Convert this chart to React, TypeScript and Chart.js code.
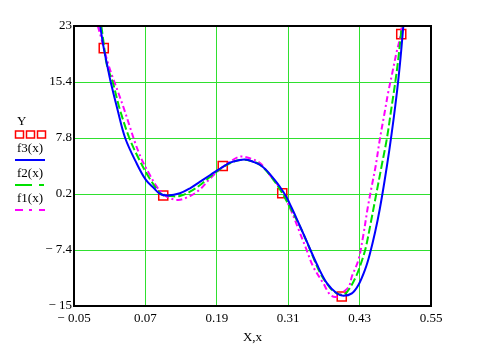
import React, { useEffect, useRef } from 'react';
import { Chart, registerables } from 'chart.js';
Chart.register(...registerables);

const xTicks = [-0.05, 0.07, 0.19, 0.31, 0.43, 0.55];
const yTicks = [-15, -7.4, 0.2, 7.8, 15.4, 23];

// Data points Y (red squares)
const dataX = [0, 0.1, 0.2, 0.3, 0.4, 0.5];
const dataY = [20, 0, 4, 0.3, -13.7, 21.9];

// f3(x) blue solid
const f3X = [-0.006, 0.0, 0.006, 0.0117, 0.023, 0.036, 0.055, 0.0705, 0.0845, 0.095, 0.108, 0.128, 0.145, 0.162, 0.179, 0.19, 0.201, 0.212, 0.229, 0.24, 0.251, 0.263, 0.274, 0.285, 0.296, 0.307, 0.316, 0.324, 0.341, 0.358, 0.375, 0.392, 0.403, 0.417, 0.428, 0.439, 0.447, 0.456, 0.464, 0.472, 0.48, 0.487, 0.493, 0.498, 0.502, 0.504];
const f3Y = [23, 20.0, 17.6, 15.4, 11.7, 7.8, 4.4, 2.15, 0.97, 0.2, 0.0, 0.3, 0.97, 1.87, 2.78, 3.37, 3.91, 4.45, 4.81, 4.85, 4.58, 4.14, 3.37, 2.33, 1.19, -0.2, -1.7, -3.1, -6.2, -9.3, -11.9, -13.3, -13.6, -13.28, -12.15, -10.1, -8.0, -5.0, -1.8, 2.0, 6.2, 10.3, 14.2, 18.0, 21.6, 23.5];

// f2(x) green dashed
const f2X = [-0.004, 0.0, 0.005, 0.015, 0.027, 0.043, 0.06, 0.078, 0.097, 0.111, 0.128, 0.145, 0.162, 0.179, 0.195, 0.212, 0.229, 0.246, 0.263, 0.279, 0.296, 0.313, 0.33, 0.347, 0.364, 0.381, 0.392, 0.403, 0.414, 0.425, 0.432, 0.44, 0.449, 0.458, 0.467, 0.476, 0.483, 0.49, 0.495, 0.499, 0.501];
const f2Y = [23, 20.6, 17.8, 15.4, 11.7, 7.8, 4.81, 2.19, 0.16, -0.07, -0.07, 0.51, 1.42, 2.55, 3.55, 4.37, 4.81, 4.72, 4.14, 2.78, 0.85, -1.6, -4.24, -7.4, -10.56, -12.6, -13.28, -13.5, -12.5, -10.8, -9.3, -7.2, -3.6, 0.2, 4.0, 7.8, 11.6, 15.4, 18.5, 21.5, 23.2];

// f1(x) magenta dash-dot
const f1X = [-0.01, -0.005, 0.0, 0.0077, 0.0134, 0.026, 0.033, 0.044, 0.0525, 0.06, 0.066, 0.078, 0.089, 0.097, 0.108, 0.125, 0.145, 0.162, 0.179, 0.195, 0.212, 0.229, 0.246, 0.263, 0.279, 0.296, 0.313, 0.33, 0.341, 0.352, 0.369, 0.381, 0.392, 0.403, 0.412, 0.417, 0.428, 0.436, 0.444, 0.451, 0.457, 0.464, 0.472, 0.478, 0.485, 0.492, 0.498, 0.502];
const f1Y = [23, 21.6, 20.0, 17.8, 16.4, 13.6, 12.0, 9.3, 7.2, 5.6, 4.5, 2.7, 1.2, 0.45, -0.25, -0.6, -0.07, 0.84, 2.33, 3.55, 4.58, 5.27, 5.04, 4.37, 2.78, 1.0, -1.7, -5.13, -7.4, -9.66, -11.92, -13.5, -13.74, -13.06, -12.38, -11.0, -8.75, -5.5, -1.5, 1.5, 4.0, 7.62, 11.23, 13.95, 16.66, 19.38, 21.4, 23.5];

const GREEN = '#2fe02f';
const BLUE = '#0000ff';
const GREEN_LINE = '#00e000';
const MAGENTA = '#ff00ff';
const FONT = '"Liberation Serif", "Times New Roman", serif';

const fmt = (v: number) => {
  const s = String(Math.round(Math.abs(v) * 1000) / 1000);
  return v < 0 ? '\u2212 ' + s : s;
};

const pts = (xs: number[], ys: number[]) => xs.map((x, i) => ({ x, y: ys[i] }));

const decor = {
  id: 'decor',
  afterDraw(chart: any) {
    const ctx = chart.ctx;
    const { left, top, right, bottom } = chart.chartArea;
    ctx.save();
    ctx.strokeStyle = '#000';
    ctx.lineWidth = 2;
    ctx.setLineDash([]);
    ctx.strokeRect(left, top, right - left, bottom - top);

    ctx.fillStyle = '#000';
    ctx.font = '13px ' + FONT;
    ctx.textBaseline = 'middle';
    ctx.textAlign = 'left';
    ctx.fillText('Y', 17, 122);
    ctx.strokeStyle = '#ff0000';
    ctx.lineWidth = 1.5;
    [15.5, 26.5, 37.5].forEach((x) => ctx.strokeRect(x, 131, 8, 7));

    ctx.fillText('f3(x)', 17, 149);
    ctx.strokeStyle = BLUE;
    ctx.lineWidth = 2;
    ctx.beginPath(); ctx.moveTo(15, 160); ctx.lineTo(45, 160); ctx.stroke();

    ctx.fillText('f2(x)', 17, 174);
    ctx.strokeStyle = GREEN_LINE;
    ctx.setLineDash([17, 7]);
    ctx.beginPath(); ctx.moveTo(15, 185); ctx.lineTo(44, 185); ctx.stroke();

    ctx.fillText('f1(x)', 17, 199);
    ctx.strokeStyle = MAGENTA;
    ctx.setLineDash([8, 6, 3, 7]);
    ctx.beginPath(); ctx.moveTo(15, 210); ctx.lineTo(45, 210); ctx.stroke();
    ctx.setLineDash([]);

    ctx.textAlign = 'center';
    ctx.fillText('X,x', (left + right) / 2, 338);
    ctx.restore();
  },
};

export default function App() {
  const ref = useRef<HTMLCanvasElement>(null);
  useEffect(() => {
    if (!ref.current) return;
    const chart = new Chart(ref.current, {
      type: 'line',
      data: {
        datasets: [
          {
            label: 'f3(x)', data: pts(f3X, f3Y), borderColor: BLUE, borderWidth: 2,
            pointRadius: 0, tension: 0.35, fill: false,
          },
          {
            label: 'f2(x)', data: pts(f2X, f2Y), borderColor: GREEN_LINE, borderWidth: 2,
            borderDash: [8, 3], pointRadius: 0, tension: 0.35, fill: false,
          },
          {
            label: 'f1(x)', data: pts(f1X, f1Y), borderColor: MAGENTA, borderWidth: 2,
            borderDash: [6, 3, 2, 3], pointRadius: 0, tension: 0.35, fill: false,
          },
          {
            label: 'Y', data: pts(dataX, dataY), showLine: false, pointStyle: 'rect',
            pointRadius: 6.4, pointBorderColor: '#ff0000', pointBackgroundColor: 'rgba(0,0,0,0)',
            pointBorderWidth: 1.5, borderColor: '#ff0000',
          },
        ],
      } as any,
      options: {
        animation: false,
        responsive: false,
        layout: { padding: { left: 0, right: 56, top: 26, bottom: 0 } },
        plugins: { legend: { display: false }, tooltip: { enabled: false } },
        scales: {
          x: {
            type: 'linear', min: -0.05, max: 0.55,
            afterBuildTicks: (s: any) => { s.ticks = xTicks.map((v) => ({ value: v })); },
            afterFit: (s: any) => { s.height = 51; },
            grid: { color: GREEN, lineWidth: 1, drawTicks: false },
            border: { display: false },
            ticks: {
              autoSkip: false, maxRotation: 0, padding: 5, color: '#000',
              font: { family: FONT, size: 13 },
              callback: (v: any) => fmt(Number(v)),
            },
          },
          y: {
            type: 'linear', min: -15, max: 23,
            afterBuildTicks: (s: any) => { s.ticks = yTicks.map((v) => ({ value: v })); },
            afterFit: (s: any) => { s.width = 74; },
            grid: { color: GREEN, lineWidth: 1, drawTicks: false },
            border: { display: false },
            ticks: {
              autoSkip: false, padding: 2, color: '#000',
              font: { family: FONT, size: 13 },
              callback: (v: any) => fmt(Number(v)),
            },
          },
        },
      } as any,
      plugins: [decor],
    });
    return () => chart.destroy();
  }, []);
  return (
    <div style={{ position: 'absolute', left: 0, top: 0, width: 487, height: 357, background: '#fff' }}>
      <canvas ref={ref} width={487} height={357} />
    </div>
  );
}
